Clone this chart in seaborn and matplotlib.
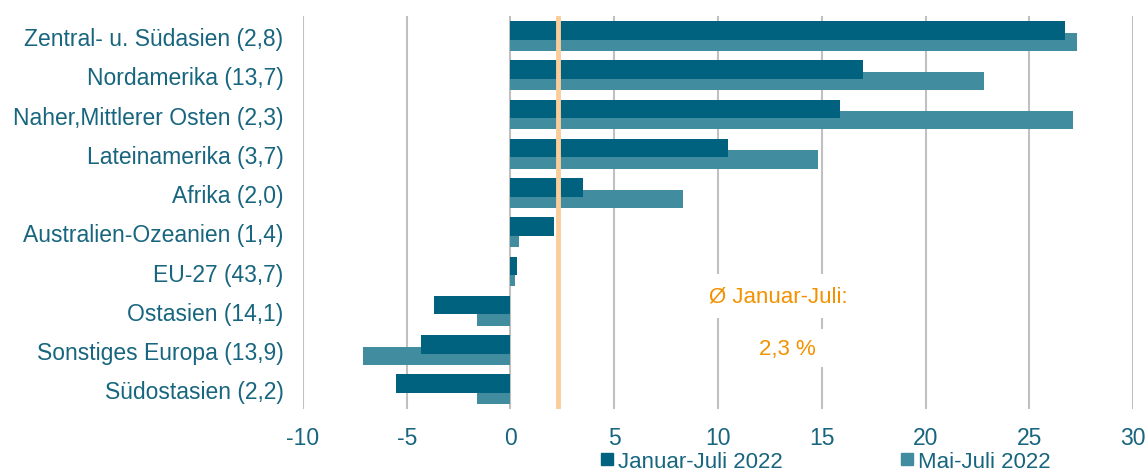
#!/usr/bin/env python3
"""
Exportentwicklung nach Regionen - horizontales Balkendiagramm
"""
import pandas as pd
import matplotlib
matplotlib.use("Agg")
import matplotlib.pyplot as plt
from matplotlib.lines import Line2D
import seaborn as sns

# Daten
regions = [
    "Zentral- u. Südasien (2,8)",
    "Nordamerika (13,7)",
    "Naher,Mittlerer Osten (2,3)",
    "Lateinamerika (3,7)",
    "Afrika (2,0)",
    "Australien-Ozeanien (1,4)",
    "EU-27 (43,7)",
    "Ostasien (14,1)",
    "Sonstiges Europa (13,9)",
    "Südostasien (2,2)",
]
jan_jul = [26.7, 17.0, 15.9, 10.5, 3.5, 2.1, 0.3, -3.7, -4.3, -5.5]
mai_jul = [27.3, 22.8, 27.1, 14.8, 8.3, 0.4, 0.2, -1.6, -7.1, -1.6]
series_names = ["Januar-Juli 2022", "Mai-Juli 2022"]
avg_jan_jul = 2.3
x_ticks = [-10, -5, 0, 5, 10, 15, 20, 25, 30]

dark = "#00627F"
light = "#418D9F"
text_col = "#17657E"
orange = "#F39200"

df = pd.DataFrame({
    "region": regions * 2,
    "value": jan_jul + mai_jul,
    "series": [series_names[0]] * len(regions) + [series_names[1]] * len(regions),
})

sns.set_style("white")
plt.rcParams["font.family"] = ["Liberation Sans", "DejaVu Sans"]

fig = plt.figure(figsize=(11.45, 4.77), dpi=100)
ax = fig.add_axes([0.2646, 0.1405, 0.725, 0.823])

sns.barplot(data=df, y="region", x="value", hue="series", orient="h",
            dodge=True, width=0.58, palette=[dark, light], ax=ax,
            legend=False, saturation=1)

# overlapping bars like the original
bar_h = 0.47
for i, cont in enumerate(ax.containers):
    for p in cont:
        c = p.get_y() + p.get_height() / 2
        p.set_y(c - bar_h / 2)
        p.set_height(bar_h)
        p.set_zorder(3 if i == 0 else 2)
        p.set_linewidth(0)

ax.axvline(avg_jan_jul, color="#FBCD9C", lw=3.5, zorder=5)

ax.set_xlim(-10, 30)
ax.set_ylim(len(regions) - 0.5, -0.5)
ax.set_xticks(x_ticks)
ax.set_xticklabels([str(t) for t in x_ticks])
ax.grid(axis="x", color="#C0C0C0", lw=1.5, zorder=0)
ax.set_axisbelow(True)
for s in ax.spines.values():
    s.set_visible(False)
ax.set_xlabel("")
ax.set_ylabel("")
ax.tick_params(axis="both", length=0, labelsize=16.5, labelcolor=text_col)
ax.tick_params(axis="x", pad=12)
ax.tick_params(axis="y", pad=14)

# Durchschnitt
ax.text(12.9, 6.62, "Ø Januar-Juli:", color=orange, fontsize=16, ha="center",
        va="center", zorder=6,
        bbox=dict(facecolor="white", edgecolor="none", pad=8))
ax.text(13.35, 7.95, "2,3 %", color=orange, fontsize=16, ha="center",
        va="center", zorder=6,
        bbox=dict(facecolor="white", edgecolor="none", pad=6))

handles = [Line2D([], [], marker="s", ls="", color=dark, markersize=8),
           Line2D([], [], marker="s", ls="", color=light, markersize=8)]
leg = fig.legend(handles, series_names, loc="center", bbox_to_anchor=(0.721, 0.03),
                 ncol=2, frameon=False, fontsize=16, columnspacing=5.3,
                 handlelength=0.6, handletextpad=0.2, borderpad=0.2)
for t in leg.get_texts():
    t.set_color(text_col)

fig.savefig("out.png", dpi=100)
